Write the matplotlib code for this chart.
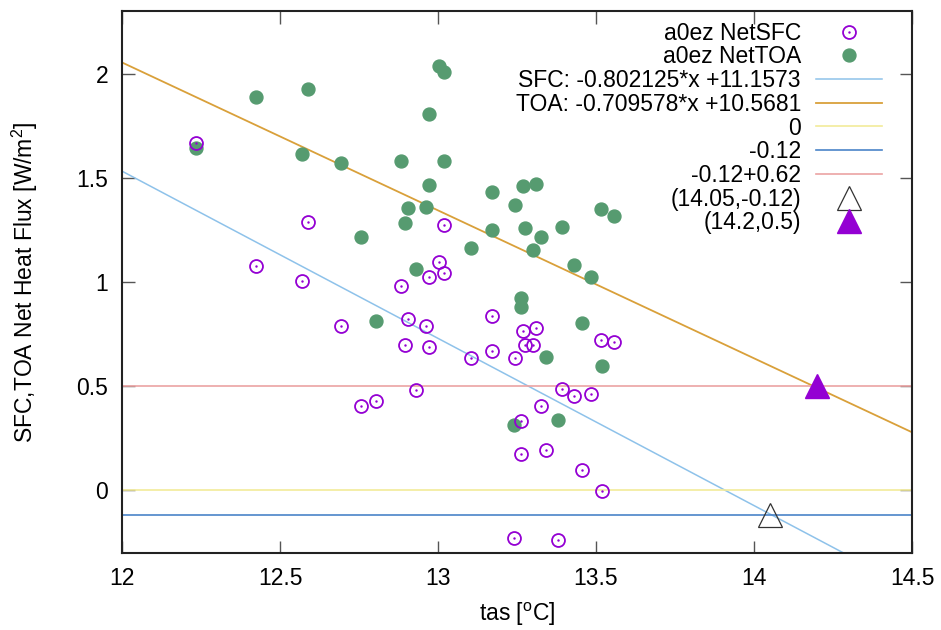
import numpy as np
import matplotlib
matplotlib.use('Agg')
import matplotlib.pyplot as plt

plt.rcParams['font.family'] = ['Liberation Sans', 'DejaVu Sans']
plt.rcParams['mathtext.default'] = 'regular'

# a0ez NetSFC (open circles)
sfc_x = [12.235, 12.424, 12.571, 12.590, 12.693, 12.756, 12.804, 12.883, 12.895, 12.905,
         12.931, 12.963, 12.972, 12.972, 13.002, 13.019, 13.020, 13.104, 13.172, 13.172,
         13.243, 13.268, 13.275, 13.302, 13.309, 13.261, 13.263, 13.342, 13.326, 13.391,
         13.431, 13.483, 13.455, 13.515, 13.558, 13.520, 13.241, 13.381]
sfc_y = [1.666, 1.077, 1.006, 1.289, 0.789, 0.407, 0.431, 0.981, 0.699, 0.823,
         0.483, 0.789, 0.689, 1.022, 1.096, 1.273, 1.044, 0.635, 0.837, 0.667,
         0.635, 0.766, 0.699, 0.699, 0.780, 0.333, 0.177, 0.195, 0.405, 0.489,
         0.451, 0.461, 0.097, 0.724, 0.713, -0.003, -0.230, -0.238]

# a0ez NetTOA (filled circles)
toa_x = [12.235, 12.424, 12.590, 12.571, 12.693, 12.756, 12.804, 12.883, 12.895, 12.905,
         12.931, 12.963, 12.972, 12.972, 13.002, 13.019, 13.020, 13.104, 13.172, 13.172,
         13.243, 13.268, 13.309, 13.275, 13.326, 13.391, 13.302, 13.431, 13.483, 13.515,
         13.558, 13.261, 13.263, 13.455, 13.342, 13.520, 13.241, 13.381]
toa_y = [1.643, 1.887, 1.925, 1.615, 1.573, 1.217, 0.815, 1.580, 1.284, 1.353,
         1.061, 1.360, 1.807, 1.467, 2.038, 2.006, 1.580, 1.164, 1.431, 1.249,
         1.368, 1.461, 1.472, 1.257, 1.214, 1.265, 1.156, 1.080, 1.025, 1.348,
         1.317, 0.923, 0.879, 0.805, 0.640, 0.595, 0.313, 0.340]

# regression fits
sfc_slope, sfc_icpt = -0.802125, 11.1573
toa_slope, toa_icpt = -0.709578, 10.5681
hlines = [0.0, -0.12, -0.12 + 0.62]
hline_labels = ['0', '-0.12', '-0.12+0.62']
pt_open = (14.05, -0.12)
pt_fill = (14.2, 0.5)

purple = '#9400d3'
green = '#569b70'
fs = 16.5

fig = plt.figure(figsize=(9.41, 6.3), dpi=100)
ax = fig.add_axes([0.1297, 0.1222, 0.8395, 0.8603])

xx = np.array([12.0, 14.5])

c1, = ax.plot(sfc_x, sfc_y, 'o', mfc='none', mec=purple, mew=1.3, ms=9.3, zorder=4)
d1, = ax.plot(sfc_x, sfc_y, '.', color=purple, ms=1.5, zorder=4)
c2, = ax.plot(toa_x, toa_y, 'o', color=green, ms=9.3, zorder=3)
l1, = ax.plot(xx, sfc_slope * xx + sfc_icpt, color='#8ec2ea', lw=1.1)
l2, = ax.plot(xx, toa_slope * xx + toa_icpt, color='#d9a03a', lw=1.3)
hcolors = ['#f2eb9a', '#4a84c8', '#eba3a3']
hl = []
for yv, col in zip(hlines, hcolors):
    h, = ax.plot(xx, [yv, yv], color=col, lw=1.2)
    hl.append(h)
t1, = ax.plot([pt_open[0]], [pt_open[1]], '^', mfc='none', mec='#333333', mew=0.9, ms=17, zorder=5)
t2, = ax.plot([pt_fill[0]], [pt_fill[1]], '^', color=purple, ms=17, zorder=5)

ax.set_xlim(12, 14.5)
ax.set_ylim(-0.3, 2.3)
ax.set_xticks(np.arange(12, 14.51, 0.5))
ax.set_xticklabels(['12', '12.5', '13', '13.5', '14', '14.5'])
ax.set_yticks([0, 0.5, 1, 1.5, 2])
ax.set_yticklabels(['0', '0.5', '1', '1.5', '2'])
ax.tick_params(direction='in', length=9, width=1, color='#555555', labelsize=fs,
               top=True, right=True, pad=10)
for s in ax.spines.values():
    s.set_linewidth(1.5)
    s.set_color('#222222')

ax.set_xlabel('tas [$^{o}$C]', fontsize=fs, labelpad=8)
ax.set_ylabel('SFC,TOA Net Heat Flux [W/m$^{2}$]', fontsize=fs, labelpad=26)

handles = [(c1, d1), c2, l1, l2] + hl + [t1, t2]
labels = ['a0ez NetSFC', 'a0ez NetTOA',
          'SFC: %g*x +%g' % (sfc_slope, sfc_icpt),
          'TOA: %g*x +%g' % (toa_slope, toa_icpt)] + hline_labels + \
         ['(%g,%g)' % pt_open, '(%g,%g)' % pt_fill]
leg = ax.legend(handles, labels, loc='upper right', bbox_to_anchor=(0.9826, 1.0098),
                frameon=False, markerfirst=False, fontsize=fs, labelspacing=0.03,
                handlelength=2.9, handletextpad=0.65, borderpad=0.2, numpoints=1)
for t in leg.get_texts():
    t.set_ha('right')

fig.savefig('out.png', dpi=100)
